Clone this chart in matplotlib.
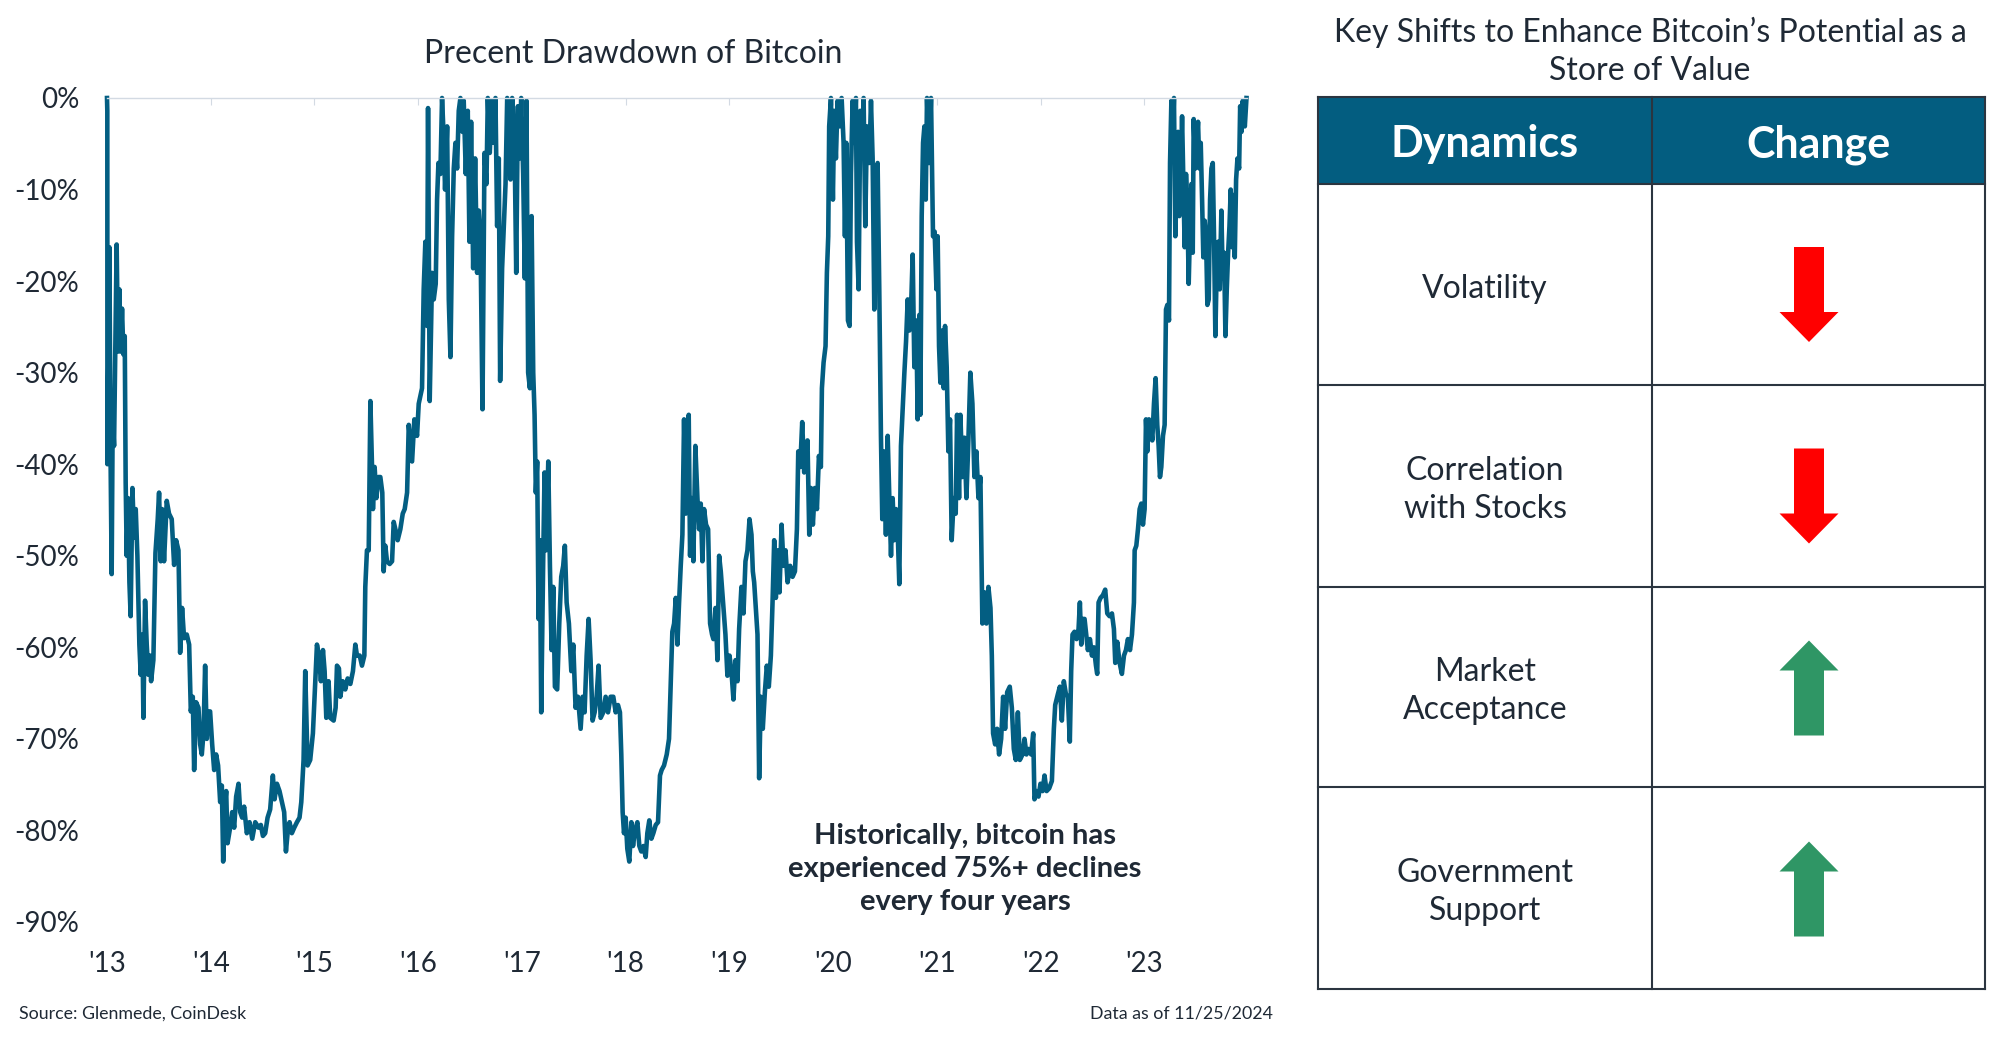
import numpy as np
import matplotlib.pyplot as plt
from matplotlib.patches import Rectangle, Polygon

plt.rcParams['font.family'] = ['Lato', 'DejaVu Sans']

# (decimal year, drawdown %), one list per year
dd_2013 = [(2013.000, 0), (2013.003, -1.4), (2013.004, -40), (2013.023, -16.3), (2013.035, -40),
           (2013.045, -52), (2013.055, -34.6), (2013.068, -38), (2013.093, -16), (2013.106, -27.7),
           (2013.119, -20.9), (2013.132, -27.7), (2013.145, -23), (2013.158, -28), (2013.171, -26),
           (2013.180, -42), (2013.190, -50), (2013.203, -43.7), (2013.216, -52.9), (2013.228, -56.6),
           (2013.245, -42.6), (2013.261, -48), (2013.277, -44.9), (2013.293, -50), (2013.312, -59.7),
           (2013.325, -63), (2013.341, -58.6), (2013.351, -67.7), (2013.367, -54.9), (2013.383, -59.7),
           (2013.399, -63), (2013.415, -60.9), (2013.425, -63.7), (2013.447, -61.4), (2013.467, -49.7),
           (2013.489, -46), (2013.502, -43.1), (2013.518, -50.6), (2013.531, -44.9), (2013.550, -50.6),
           (2013.576, -44), (2013.598, -45.4), (2013.624, -46), (2013.647, -51), (2013.666, -48.3),
           (2013.689, -49.4), (2013.705, -60.6), (2013.724, -55.7), (2013.743, -59), (2013.769, -58.6),
           (2013.792, -59.7), (2013.808, -67), (2013.827, -65.4), (2013.840, -73.4), (2013.859, -66),
           (2013.882, -66.6), (2013.898, -70.6), (2013.914, -71.7), (2013.930, -69.4), (2013.946, -62),
           (2013.962, -70), (2013.978, -67), (2013.994, -67)]

dd_2014 = [(2014.014, -70.6), (2014.033, -73.4), (2014.052, -71.7), (2014.071, -72.9), (2014.091, -76.9),
           (2014.107, -75.1), (2014.120, -83.4), (2014.136, -77.4), (2014.149, -75.7), (2014.162, -81.4),
           (2014.187, -79.7), (2014.207, -78), (2014.226, -79.7), (2014.245, -76.3), (2014.268, -74.9),
           (2014.284, -78), (2014.303, -78.6), (2014.322, -77.4), (2014.348, -80.3), (2014.374, -79.1),
           (2014.400, -80.9), (2014.429, -79.1), (2014.461, -79.7), (2014.483, -79.4), (2014.503, -80.6),
           (2014.525, -80.3), (2014.548, -78.6), (2014.573, -77.7), (2014.599, -74), (2014.615, -76.6),
           (2014.638, -74.9), (2014.663, -75.7), (2014.686, -76.9), (2014.708, -78), (2014.725, -82.3),
           (2014.741, -80.3), (2014.760, -79.1), (2014.782, -80.3), (2014.805, -79.7), (2014.831, -79.1),
           (2014.856, -78.6), (2014.873, -76.9), (2014.895, -72.3), (2014.911, -62.6), (2014.934, -72.9),
           (2014.959, -72.3), (2014.985, -69.4)]

dd_2015 = [(2015.008, -63.7), (2015.024, -59.7), (2015.043, -60.9), (2015.062, -63.7), (2015.082, -60.3),
           (2015.098, -62.6), (2015.114, -67.7), (2015.136, -63.7), (2015.152, -67.7), (2015.185, -68),
           (2015.204, -66.6), (2015.217, -62), (2015.236, -62.3), (2015.249, -65.4), (2015.272, -63.7),
           (2015.297, -64.6), (2015.320, -63.4), (2015.346, -64), (2015.371, -62.6), (2015.394, -59.7),
           (2015.410, -60.9), (2015.436, -60.9), (2015.458, -62), (2015.481, -60.9), (2015.490, -53.4),
           (2015.506, -49.4), (2015.523, -49.4), (2015.539, -33.1), (2015.555, -40.3), (2015.564, -44.9),
           (2015.580, -40.3), (2015.597, -43.7), (2015.616, -41.4), (2015.635, -41.4), (2015.654, -43.1),
           (2015.667, -51.7), (2015.683, -48.9), (2015.699, -50.6), (2015.725, -50.9), (2015.748, -50.6),
           (2015.764, -46.3), (2015.780, -47.1), (2015.802, -48.3), (2015.828, -47.1), (2015.851, -45.4),
           (2015.870, -44.9), (2015.893, -43.1), (2015.909, -35.7), (2015.941, -39.7), (2015.963, -35.1),
           (2015.989, -36.9)]

dd_2016 = [(2016.005, -33.4), (2016.037, -31.7), (2016.053, -20.9), (2016.069, -15.7), (2016.086, -24.9),
           (2016.095, -1.1), (2016.111, -33.1), (2016.134, -19.1), (2016.150, -22), (2016.169, -20.3),
           (2016.182, -11.1), (2016.195, -7.1), (2016.214, -8.3), (2016.230, 0), (2016.246, -4.3),
           (2016.259, -10), (2016.279, -3.1), (2016.295, -22), (2016.311, -28.3), (2016.327, -15.1),
           (2016.343, -7.7), (2016.359, -4.9), (2016.375, -7.7), (2016.391, -1.4), (2016.407, 0),
           (2016.427, -3.7), (2016.439, -0.3), (2016.459, -8.3), (2016.478, -1.4), (2016.494, -15.7),
           (2016.510, -2.6), (2016.530, -18.6), (2016.549, -6.6), (2016.568, -19.1), (2016.584, -12.3),
           (2016.600, -15.1), (2016.620, -34), (2016.639, -6), (2016.658, -9.4), (2016.671, 0),
           (2016.690, -6), (2016.710, -0.3), (2016.729, -4.9), (2016.745, 0), (2016.761, -14),
           (2016.777, -6.6), (2016.790, -30.9), (2016.809, -18.6), (2016.826, -14), (2016.842, -9.4),
           (2016.858, 0), (2016.877, -4.3), (2016.890, -8.9), (2016.906, 0), (2016.929, -4.9),
           (2016.945, -19.1), (2016.961, -0.9), (2016.977, -6.6), (2016.993, 0)]

dd_2017 = [(2017.012, -8.3), (2017.028, -19.7), (2017.044, -0.3), (2017.060, -30), (2017.077, -31.7),
           (2017.093, -12.9), (2017.109, -30), (2017.122, -34.6), (2017.134, -43.1), (2017.147, -39.7),
           (2017.160, -56.9), (2017.173, -48.3), (2017.186, -67.1), (2017.205, -50.6), (2017.218, -40.9),
           (2017.234, -49.4), (2017.254, -39.7), (2017.270, -51.1), (2017.286, -60.3), (2017.302, -53.4),
           (2017.318, -64.3), (2017.340, -64.6), (2017.360, -57.4), (2017.379, -52.3), (2017.398, -51.1),
           (2017.414, -48.9), (2017.431, -55.1), (2017.453, -57.4), (2017.476, -62.6), (2017.495, -59.7),
           (2017.517, -66.6), (2017.540, -65.4), (2017.566, -68.9), (2017.585, -65.4), (2017.604, -67.1),
           (2017.624, -60.9), (2017.643, -56.9), (2017.662, -61.4), (2017.681, -68), (2017.701, -67.1),
           (2017.720, -65.4), (2017.739, -62), (2017.759, -67.7), (2017.784, -67.1), (2017.807, -65.4),
           (2017.830, -67.1), (2017.855, -65.4), (2017.881, -65.4), (2017.904, -67.1), (2017.926, -66.3),
           (2017.945, -67.1), (2017.958, -71.7), (2017.971, -78), (2017.984, -80.3)]

dd_2018 = [(2018.000, -78.6), (2018.016, -82), (2018.035, -83.4), (2018.055, -79.1), (2018.071, -81.7),
           (2018.090, -80), (2018.113, -79.1), (2018.132, -81.7), (2018.151, -82.3), (2018.171, -81.7),
           (2018.193, -82.9), (2018.209, -80.3), (2018.228, -78.9), (2018.248, -80.9), (2018.267, -80.3),
           (2018.290, -79.4), (2018.312, -79.1), (2018.331, -74), (2018.347, -73.4), (2018.370, -72.9),
           (2018.396, -71.7), (2018.418, -70), (2018.434, -64.3), (2018.450, -58.3), (2018.467, -57.4),
           (2018.483, -54.6), (2018.499, -59.7), (2018.515, -55.1), (2018.531, -51.1), (2018.547, -47.7),
           (2018.563, -35.1), (2018.579, -45.4), (2018.595, -36.9), (2018.608, -34.6), (2018.621, -50),
           (2018.637, -43.7), (2018.653, -50.6), (2018.672, -38), (2018.692, -43.7), (2018.708, -47.1),
           (2018.724, -44.3), (2018.740, -50.6), (2018.756, -44.9), (2018.775, -46.6), (2018.795, -47.1),
           (2018.814, -57.4), (2018.833, -58.6), (2018.846, -59.1), (2018.866, -55.7), (2018.885, -61.4),
           (2018.901, -50), (2018.917, -51.7), (2018.962, -58.6), (2018.981, -63.1)]

dd_2019 = [(2019.001, -60.9), (2019.020, -62.6), (2019.039, -65.7), (2019.059, -61.4), (2019.078, -63.7),
           (2019.094, -58), (2019.116, -53.4), (2019.136, -56.3), (2019.155, -50.6), (2019.174, -49.4),
           (2019.194, -46), (2019.213, -47.7), (2019.226, -51.7), (2019.239, -52.9), (2019.255, -55.7),
           (2019.271, -58.6), (2019.287, -74.3), (2019.303, -65.4), (2019.322, -68.9), (2019.342, -64.9),
           (2019.361, -62), (2019.380, -64.3), (2019.400, -60.9), (2019.416, -55.1), (2019.432, -48.3),
           (2019.448, -54.6), (2019.464, -49.4), (2019.483, -54), (2019.503, -46.6), (2019.522, -51.1),
           (2019.541, -49.4), (2019.561, -52.9), (2019.586, -51.1), (2019.609, -52.3), (2019.632, -51.7),
           (2019.651, -47.1), (2019.664, -38.6), (2019.683, -40.3), (2019.702, -35.4), (2019.721, -40.9),
           (2019.741, -39.1), (2019.753, -37.4), (2019.770, -47.7), (2019.786, -42.6), (2019.805, -46.6),
           (2019.824, -42.6), (2019.844, -44.9), (2019.863, -39.1), (2019.882, -40.3), (2019.892, -31.7),
           (2019.908, -28.9), (2019.927, -27.1), (2019.940, -19.1), (2019.953, -15.1), (2019.962, -3.1),
           (2019.979, 0), (2019.998, -11.1)]

dd_2020 = [(2020.011, -1.4), (2020.027, -6.6), (2020.043, -0.3), (2020.062, -3.1), (2020.082, 0),
           (2020.101, -4.9), (2020.114, -15.1), (2020.127, -4.9), (2020.143, -24.3), (2020.159, -24.9),
           (2020.172, -8.3), (2020.188, -0.3), (2020.204, -4.9), (2020.220, 0), (2020.230, -15.7),
           (2020.246, -20.9), (2020.262, -1.4), (2020.281, -5.4), (2020.294, 0), (2020.310, -14),
           (2020.326, -3.1), (2020.349, -7.1), (2020.365, -0.3), (2020.381, -6.6), (2020.397, -23.1),
           (2020.413, -9.4), (2020.429, -7.1), (2020.445, -20.9), (2020.461, -36.9), (2020.474, -46),
           (2020.493, -38.6), (2020.509, -47.7), (2020.526, -36.9), (2020.542, -43.7), (2020.558, -50),
           (2020.574, -43.7), (2020.590, -48.3), (2020.606, -44.9), (2020.622, -47.1), (2020.638, -53.1),
           (2020.654, -38), (2020.670, -34), (2020.687, -30), (2020.703, -26.6), (2020.719, -22),
           (2020.735, -25.4), (2020.751, -23.1), (2020.767, -17.1), (2020.783, -29.4), (2020.802, -24.3),
           (2020.815, -35.1), (2020.831, -23.7), (2020.841, -34.6), (2020.854, -12.9), (2020.867, -4.9),
           (2020.880, -3.1), (2020.893, -11.1), (2020.905, 0), (2020.925, -7.1), (2020.944, 0),
           (2020.963, -15.1), (2020.979, -14.6), (2020.996, -20.9)]

dd_2021 = [(2021.008, -15.1), (2021.021, -27.1), (2021.034, -31.1), (2021.050, -25.4), (2021.066, -31.7),
           (2021.079, -24.9), (2021.095, -29.4), (2021.111, -38.6), (2021.127, -35.1), (2021.143, -48.3),
           (2021.163, -43.7), (2021.182, -45.4), (2021.195, -34.6), (2021.214, -43.7), (2021.227, -34.6),
           (2021.246, -41.4), (2021.266, -37.1), (2021.285, -43.7), (2021.304, -37.4), (2021.323, -30),
           (2021.343, -33.4), (2021.362, -41.4), (2021.381, -38.6), (2021.401, -43.7), (2021.420, -41.4),
           (2021.439, -57.4), (2021.459, -54), (2021.478, -57.4), (2021.497, -53.4), (2021.517, -55.7),
           (2021.530, -60.9), (2021.542, -69.4), (2021.562, -70.6), (2021.581, -68.9), (2021.600, -71.7),
           (2021.620, -70), (2021.639, -65.4), (2021.658, -68.9), (2021.678, -64.9), (2021.703, -64.3),
           (2021.723, -66.6), (2021.742, -71.1), (2021.761, -72.3), (2021.781, -67.1), (2021.800, -72.3),
           (2021.826, -71.7), (2021.845, -70), (2021.864, -71.7), (2021.884, -71.1), (2021.909, -71.7),
           (2021.929, -69.4), (2021.941, -76.6), (2021.961, -75.7), (2021.980, -76.3), (2021.999, -74.9)]

dd_2022 = [(2022.019, -75.7), (2022.038, -74), (2022.058, -75.7), (2022.083, -75.4), (2022.109, -74.6),
           (2022.128, -68.9), (2022.141, -66.3), (2022.167, -65.1), (2022.186, -64.3), (2022.205, -68),
           (2022.224, -63.7), (2022.244, -65.1), (2022.263, -65.4), (2022.282, -70.3), (2022.295, -62.6),
           (2022.308, -58.6), (2022.327, -58.3), (2022.347, -59.1), (2022.366, -58), (2022.379, -55.1),
           (2022.392, -59.7), (2022.408, -56.9), (2022.424, -56.9), (2022.440, -58.6), (2022.456, -60.3),
           (2022.476, -59.1), (2022.495, -60.9), (2022.514, -60), (2022.534, -62), (2022.546, -62.9),
           (2022.559, -55.1), (2022.578, -54.6), (2022.601, -54.3), (2022.623, -53.7), (2022.643, -56.3),
           (2022.665, -56.6), (2022.688, -56.3), (2022.707, -58), (2022.720, -61.7), (2022.739, -59.4),
           (2022.762, -61.7), (2022.784, -62.9), (2022.804, -60.9), (2022.823, -60.3), (2022.842, -59.1),
           (2022.862, -60.3), (2022.881, -58.6), (2022.900, -55.1), (2022.907, -49.4), (2022.923, -48.9),
           (2022.939, -47.1), (2022.955, -44.9), (2022.971, -44.3), (2022.987, -46.6)]

dd_2023 = [(2023.003, -44.9), (2023.016, -35.1), (2023.029, -38.6), (2023.045, -35.1), (2023.061, -35.7),
           (2023.077, -37.4), (2023.093, -33.4), (2023.109, -30.6), (2023.125, -35.7), (2023.138, -38),
           (2023.151, -41.4), (2023.164, -40.3), (2023.180, -36.9), (2023.196, -35.7), (2023.209, -23.1),
           (2023.222, -22.6), (2023.238, -24.3), (2023.248, -7.1), (2023.261, -0.3), (2023.273, -4.9),
           (2023.286, 0), (2023.299, -15.1), (2023.312, -9.4), (2023.325, -3.7), (2023.338, -12.9),
           (2023.351, -8.3), (2023.364, -2), (2023.377, -9.4), (2023.389, -16.3), (2023.402, -8.3),
           (2023.415, -11.7), (2023.428, -20.3), (2023.441, -14), (2023.454, -9.4), (2023.467, -16.9),
           (2023.476, -2.3), (2023.492, -7.7), (2023.505, -4.9), (2023.518, -2.6), (2023.531, -7.7),
           (2023.544, -4.9), (2023.557, -11.1), (2023.569, -17.4), (2023.582, -13.4), (2023.595, -15.1),
           (2023.608, -22.6), (2023.621, -22), (2023.634, -11.1), (2023.647, -7.7), (2023.660, -7.1),
           (2023.672, -15.1), (2023.685, -26), (2023.698, -18.6), (2023.711, -15.7), (2023.727, -20.9),
           (2023.743, -12.3), (2023.756, -19.7), (2023.769, -16.9), (2023.782, -26), (2023.795, -20.9),
           (2023.808, -16.9), (2023.821, -14), (2023.833, -10), (2023.846, -16.3), (2023.862, -10.6),
           (2023.872, -17.4), (2023.885, -8.9), (2023.898, -6.6), (2023.914, -7.7), (2023.924, -0.9),
           (2023.937, -3.7), (2023.949, -0.3), (2023.969, -3.1), (2023.985, 0)]

year_ticks = list(range(2013, 2024))
year_labels = ["'13", "'14", "'15", "'16", "'17", "'18", "'19", "'20", "'21", "'22", "'23"]
pct_ticks = [0, -10, -20, -30, -40, -50, -60, -70, -80, -90]
pct_labels = ['0%', '-10%', '-20%', '-30%', '-40%', '-50%', '-60%', '-70%', '-80%', '-90%']

dynamics = ['Volatility', 'Correlation\nwith Stocks', 'Market\nAcceptance', 'Government\nSupport']
change = ['down', 'down', 'up', 'up']

LINE = '#035e82'
TEXT = '#1f2935'
GRID = '#d3dae3'

series = dd_2013 + dd_2014 + dd_2015 + dd_2016 + dd_2017 + dd_2018 + dd_2019 + dd_2020 + dd_2021 + dd_2022 + dd_2023
years = np.array([p[0] for p in series])
drawdown = np.array([p[1] for p in series])

fig = plt.figure(figsize=(20, 10.37), dpi=100)

# line chart
ax = fig.add_axes([0.0535, 0.1109, 0.570, 0.7946])
ax.plot(years, drawdown, color=LINE, lw=3.3, clip_on=False)
ax.set_xlim(2013, 2023.99)
ax.set_ylim(-90, 0)
for s in ['left', 'right', 'bottom']:
    ax.spines[s].set_visible(False)
ax.spines['top'].set_color(GRID)
ax.spines['top'].set_linewidth(1)
ax.set_xticks(year_ticks, year_labels)
ax.set_yticks(pct_ticks, pct_labels)
ax.tick_params(axis='x', bottom=False, top=True, labelbottom=True, labeltop=False,
               direction='in', length=5, color=GRID, pad=21, labelsize=20, labelcolor=TEXT)
ax.tick_params(axis='y', length=0, pad=20, labelsize=20, labelcolor=TEXT)

fig.text(0.3165, 0.948, 'Precent Drawdown of Bitcoin', ha='center', va='center', fontsize=23, color=TEXT)
fig.text(0.4825, 0.162, 'Historically, bitcoin has\nexperienced 75%+ declines\nevery four years',
         ha='center', va='center', fontsize=21, fontweight='bold', color=TEXT, linespacing=1.35)
fig.text(0.0095, 0.023, 'Source: Glenmede, CoinDesk', va='center', fontsize=12.8, color=TEXT)
fig.text(0.6365, 0.023, 'Data as of 11/25/2024', ha='right', va='center', fontsize=12.8, color=TEXT)

# table panel, drawn in pixel coordinates
tax = fig.add_axes([0, 0, 1, 1])
tax.set_xlim(0, 2000)
tax.set_ylim(1037, 0)
tax.axis('off')
tax.patch.set_alpha(0)

fig.text(0.825, 0.9505, 'Key Shifts to Enhance Bitcoin\u2019s Potential as a\nStore of Value',
         ha='center', va='center', fontsize=23, color=TEXT, linespacing=1.32)

x0, xm, x1 = 1318, 1652, 1985
edges = [97, 184, 385, 587, 787, 989]
BORDER = '#2b3540'

tax.add_patch(Rectangle((x0, edges[0]), x1 - x0, edges[1] - edges[0], facecolor='#035d80', edgecolor='none'))
for y in edges:
    tax.plot([x0, x1], [y, y], color=BORDER, lw=1.5)
for x in [x0, xm, x1]:
    tax.plot([x, x], [edges[0], edges[-1]], color=BORDER, lw=1.5)

hy = (edges[0] + edges[1]) / 2 + 4
tax.text((x0 + xm) / 2, hy, 'Dynamics', ha='center', va='center', color='white', fontsize=31, fontweight='bold')
tax.text((xm + x1) / 2, hy, 'Change', ha='center', va='center', color='white', fontsize=31, fontweight='bold')

cx = 1809
half_h, shaft, head_w, head_l = 47.5, 15, 29.5, 30
for i, (label, d) in enumerate(zip(dynamics, change)):
    cy = (edges[i + 1] + edges[i + 2]) / 2
    tax.text((x0 + xm) / 2, cy + 4, label, ha='center', va='center', fontsize=23, color=TEXT, linespacing=1.35)
    if d == 'down':
        ay = cy + 10
        top, tip = ay - half_h, ay + half_h
        neck = tip - head_l
        pts = [(cx - shaft, top), (cx + shaft, top), (cx + shaft, neck), (cx + head_w, neck),
               (cx, tip), (cx - head_w, neck), (cx - shaft, neck)]
        col = '#ff0000'
    else:
        ay = cy + 1
        tip, bot = ay - half_h, ay + half_h
        neck = tip + head_l
        pts = [(cx - shaft, bot), (cx + shaft, bot), (cx + shaft, neck), (cx + head_w, neck),
               (cx, tip), (cx - head_w, neck), (cx - shaft, neck)]
        col = '#2f9665'
    tax.add_patch(Polygon(pts, closed=True, facecolor=col, edgecolor='none'))

fig.savefig('out.png', dpi=100)
